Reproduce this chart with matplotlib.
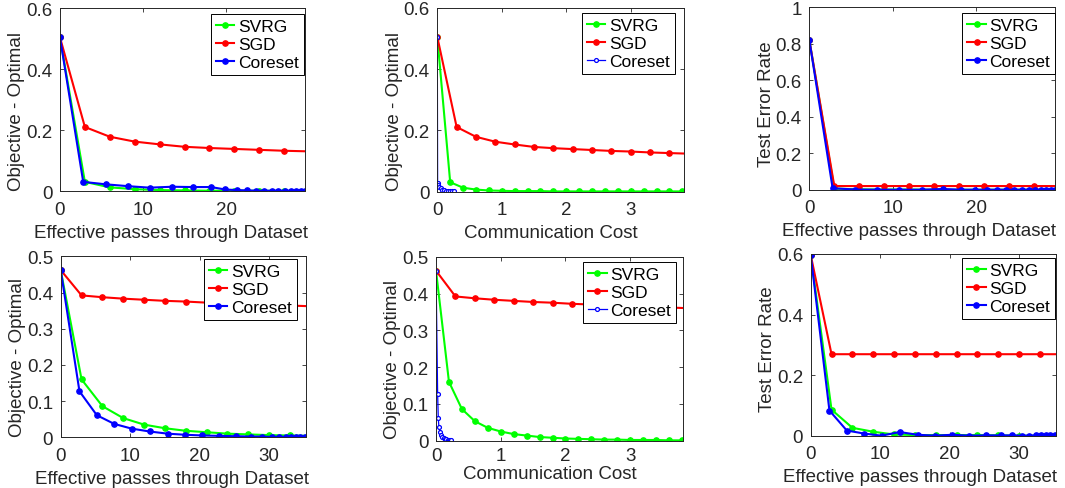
import matplotlib
matplotlib.use("Agg")
import matplotlib.pyplot as plt
from matplotlib.ticker import FuncFormatter, MultipleLocator

plt.rcParams['font.family'] = ['Liberation Sans', 'DejaVu Sans']

# ---------------- dataset A (top row) ----------------
sgd_passes_a = [0, 3, 6, 9, 12, 15, 18, 21, 24, 27, 30, 33, 36, 39]
sgd_comm_a = [0, 0.3, 0.6, 0.9, 1.2, 1.5, 1.8, 2.1, 2.4, 2.7, 3.0, 3.3, 3.6, 3.9]
sgd_obj_a = [0.505, 0.211, 0.179, 0.163, 0.154, 0.146, 0.142, 0.139, 0.136,
             0.133, 0.131, 0.128, 0.126, 0.124]
sgd_err_a = [0.82, 0.020, 0.020, 0.020, 0.020, 0.020, 0.020, 0.020, 0.020,
             0.020, 0.020, 0.020, 0.020, 0.020]

svrg_passes_a = [0, 3, 6, 9, 12, 15, 18, 21, 24, 27, 30, 33, 36, 39, 42, 45,
                 48, 51, 54, 57]
svrg_comm_a = [0, 0.2, 0.4, 0.6, 0.8, 1.0, 1.2, 1.4, 1.6, 1.8, 2.0, 2.2, 2.4,
               2.6, 2.8, 3.0, 3.2, 3.4, 3.6, 3.8]
svrg_obj_a = [0.505, 0.031, 0.013, 0.007, 0.004, 0.003, 0.002, 0.002, 0.002,
              0.001, 0.001, 0.001, 0.001, 0.001, 0.001, 0.001, 0.001, 0.001,
              0.001, 0.001]
svrg_err_a = [0.82, 0.006, 0.002, 0.001, 0.001, 0.0, 0.0, 0.0, 0.0, 0.0, 0.0,
              0.0, 0.0, 0.0, 0.0, 0.0, 0.0, 0.0, 0.0, 0.0]

coreset_passes_a = [0, 2.8, 5.5, 8.15, 10.8, 13.5, 16.0, 18.2, 19.9, 21.3,
                    22.5, 23.6, 24.6, 25.5, 26.3, 27.1, 27.8, 28.4, 29.0, 29.5]
coreset_obj_a = [0.505, 0.031, 0.023, 0.017, 0.012, 0.015, 0.014, 0.014,
                 0.006, 0.004, 0.003, 0.002, 0.002, 0.002, 0.002, 0.002,
                 0.002, 0.002, 0.002, 0.002]
coreset_err_a = [0.82, 0.008, 0.001, 0.0, 0.0, 0.0, 0.004, 0.0, 0.0, 0.0,
                 0.0, 0.0, 0.0, 0.0, 0.0, 0.0, 0.0, 0.0, 0.0, 0.0]
coreset_comm_a = [0, 0.005, 0.015, 0.03, 0.05, 0.08, 0.11, 0.14, 0.17, 0.20,
                  0.23, 0.26]
coreset_comm_obj_a = [0.505, 0.030, 0.022, 0.016, 0.011, 0.007, 0.005, 0.003,
                      0.002, 0.001, 0.001, 0.001]

# ---------------- dataset B (bottom row) ----------------
sgd_passes_b = [0, 3, 6, 9, 12, 15, 18, 21, 24, 27, 30, 33, 36, 39]
sgd_comm_b = [0, 0.3, 0.6, 0.9, 1.2, 1.5, 1.8, 2.1, 2.4, 2.7, 3.0, 3.3, 3.6, 3.9]
sgd_obj_b = [0.462, 0.392, 0.387, 0.383, 0.380, 0.377, 0.375, 0.372, 0.370,
             0.368, 0.366, 0.364, 0.362, 0.360]
sgd_err_b = [0.597, 0.269, 0.269, 0.269, 0.269, 0.269, 0.269, 0.269, 0.269,
             0.269, 0.269, 0.269, 0.269, 0.269]

svrg_passes_b = [0, 3, 6, 9, 12, 15, 18, 21, 24, 27, 30, 33, 36, 39, 42, 45,
                 48, 51, 54, 57]
svrg_comm_b = [0, 0.2, 0.4, 0.6, 0.8, 1.0, 1.2, 1.4, 1.6, 1.8, 2.0, 2.2, 2.4,
               2.6, 2.8, 3.0, 3.2, 3.4, 3.6, 3.8]
svrg_obj_b = [0.462, 0.160, 0.086, 0.053, 0.035, 0.025, 0.018, 0.014, 0.010,
              0.008, 0.006, 0.005, 0.004, 0.003, 0.003, 0.002, 0.002, 0.002,
              0.001, 0.001]
svrg_err_b = [0.597, 0.086, 0.026, 0.013, 0.004, 0.002, 0.002, 0.002, 0.002,
              0.001, 0.0, 0.0, 0.0, 0.0, 0.0, 0.0, 0.0, 0.0, 0.0, 0.0]

coreset_passes_b = [0, 2.7, 5.2, 7.7, 10.2, 12.8, 15.4, 17.9, 20.4, 22.8,
                    25.2, 27.4, 29.0, 30.4, 31.4, 32.4, 33.1, 33.8, 34.5, 35.2]
coreset_obj_b = [0.462, 0.127, 0.061, 0.037, 0.024, 0.016, 0.010, 0.007,
                 0.005, 0.004, 0.003, 0.002, 0.002, 0.001, 0.001, 0.001,
                 0.001, 0.001, 0.001, 0.001]
coreset_err_b = [0.597, 0.083, 0.017, 0.007, 0.0, 0.012, 0.003, 0.0, 0.003,
                 0.0, 0.001, 0.001, 0.001, 0.0, 0.0, 0.001, 0.003, 0.001,
                 0.002, 0.001]
coreset_comm_b = [0, 0.025, 0.035, 0.045, 0.06, 0.08, 0.10, 0.12, 0.14, 0.16,
                  0.18, 0.20, 0.22, 0.23]
coreset_comm_obj_b = [0.462, 0.127, 0.061, 0.037, 0.024, 0.016, 0.010, 0.007,
                      0.005, 0.004, 0.003, 0.002, 0.002, 0.001]

labels = ["SVRG", "SGD", "Coreset"]
GREEN, RED, BLUE = "#00ff00", "#ff0000", "#0000ff"
INK = "#262626"

fig = plt.figure(figsize=(10.65, 4.89), dpi=100)

# axes rectangles in figure fractions
rects = [
    [0.0563, 0.6067, 0.2300, 0.3742],
    [0.4106, 0.6059, 0.2319, 0.3763],
    [0.7599, 0.6100, 0.2310, 0.3736],
    [0.0570, 0.1037, 0.2303, 0.3701],
    [0.4094, 0.0967, 0.2316, 0.3763],
    [0.7612, 0.1070, 0.2303, 0.3716],
]
legend_anchor = [(0.996, 0.969), (0.962, 0.971), (0.999, 0.967),
                 (0.963, 0.985), (0.973, 0.971), (0.996, 0.978)]
# (x of xlabel centre, y of ylabel centre) in axes fractions
label_pos = [(0.452, 0.444), (0.460, 0.444), (0.446, 0.475),
             (0.452, 0.446), (0.462, 0.446), (0.445, 0.483)]
# (x tick label pad, xlabel pad) in points
x_pads = [(6.8, 4.5), (6.8, 4.5), (6.8, 4.5),
          (6.8, 4.5), (4.5, 0.5), (6.8, 4.5)]

fmt = FuncFormatter(lambda v, p: "%g" % round(v, 6))
FS = 13.5


def style(ax, xlim, ylim, xstep, ystep, xlabel, ylabel, k):
    ax.set_xlim(*xlim)
    ax.set_ylim(*ylim)
    ax.xaxis.set_major_locator(MultipleLocator(xstep))
    ax.yaxis.set_major_locator(MultipleLocator(ystep))
    ax.xaxis.set_major_formatter(fmt)
    ax.yaxis.set_major_formatter(fmt)
    ax.tick_params(direction="in", length=3, width=0.6, colors=INK,
                   labelsize=FS, top=True, right=True)
    ax.tick_params(axis="x", pad=x_pads[k][0])
    ax.tick_params(axis="y", pad=5.5)
    for s in ax.spines.values():
        s.set_color(INK)
        s.set_linewidth(0.7)
    ax.set_xlabel(xlabel, fontsize=FS, color=INK, labelpad=x_pads[k][1])
    ax.set_ylabel(ylabel, fontsize=FS, color=INK, labelpad=0.5)
    ax.xaxis.label.set_x(label_pos[k][0])
    ax.yaxis.label.set_y(label_pos[k][1])


def thick(ax, x, y, c):
    return ax.plot(x, y, "-o", color=c, lw=1.5, ms=3.8, mfc=c, mec=c)[0]


def thin(ax, x, y, c):
    return ax.plot(x, y, "-o", color=c, lw=0.9, ms=2.8, mfc="white", mec=c,
                   mew=0.9)[0]


def add_legend(ax, handles, anchor):
    leg = ax.legend(handles, labels, loc="upper right", bbox_to_anchor=anchor,
                    borderaxespad=0, fontsize=12.5, frameon=True, fancybox=False,
                    edgecolor="black", framealpha=1, handlelength=1.05,
                    handletextpad=0.2, labelspacing=0.15, borderpad=0.3)
    leg.get_frame().set_linewidth(0.7)


axes = [fig.add_axes(r) for r in rects]

# objective vs passes, dataset A
ax = axes[0]
h = [thick(ax, svrg_passes_a, svrg_obj_a, GREEN),
     thick(ax, sgd_passes_a, sgd_obj_a, RED),
     thick(ax, coreset_passes_a, coreset_obj_a, BLUE)]
style(ax, (0, 29.5), (0, 0.6), 10, 0.2, "Effective passes through Dataset",
      "Objective - Optimal", 0)
add_legend(ax, h, legend_anchor[0])

# objective vs communication, dataset A
ax = axes[1]
h = [thick(ax, svrg_comm_a, svrg_obj_a, GREEN),
     thick(ax, sgd_comm_a, sgd_obj_a, RED),
     thin(ax, coreset_comm_a, coreset_comm_obj_a, BLUE)]
style(ax, (0, 3.83), (0, 0.6), 1, 0.2, "Communication Cost",
      "Objective - Optimal", 1)
add_legend(ax, h, legend_anchor[1])

# test error vs passes, dataset A
ax = axes[2]
h = [thick(ax, svrg_passes_a, svrg_err_a, GREEN),
     thick(ax, sgd_passes_a, sgd_err_a, RED),
     thick(ax, coreset_passes_a, coreset_err_a, BLUE)]
style(ax, (0, 29.5), (0, 1), 10, 0.2, "Effective passes through Dataset",
      "Test Error Rate", 2)
add_legend(ax, h, legend_anchor[2])

# objective vs passes, dataset B
ax = axes[3]
h = [thick(ax, svrg_passes_b, svrg_obj_b, GREEN),
     thick(ax, sgd_passes_b, sgd_obj_b, RED),
     thick(ax, coreset_passes_b, coreset_obj_b, BLUE)]
style(ax, (0, 35.3), (0, 0.5), 10, 0.1, "Effective passes through Dataset",
      "Objective - Optimal", 3)
add_legend(ax, h, legend_anchor[3])

# objective vs communication, dataset B
ax = axes[4]
h = [thick(ax, svrg_comm_b, svrg_obj_b, GREEN),
     thick(ax, sgd_comm_b, sgd_obj_b, RED),
     thin(ax, coreset_comm_b, coreset_comm_obj_b, BLUE)]
style(ax, (0, 3.81), (0, 0.5), 1, 0.1, "Communication Cost",
      "Objective - Optimal", 4)
add_legend(ax, h, legend_anchor[4])

# test error vs passes, dataset B
ax = axes[5]
h = [thick(ax, svrg_passes_b, svrg_err_b, GREEN),
     thick(ax, sgd_passes_b, sgd_err_b, RED),
     thick(ax, coreset_passes_b, coreset_err_b, BLUE)]
style(ax, (0, 35.3), (0, 0.6), 10, 0.2, "Effective passes through Dataset",
      "Test Error Rate", 5)
add_legend(ax, h, legend_anchor[5])

fig.savefig("out.png", dpi=100)
